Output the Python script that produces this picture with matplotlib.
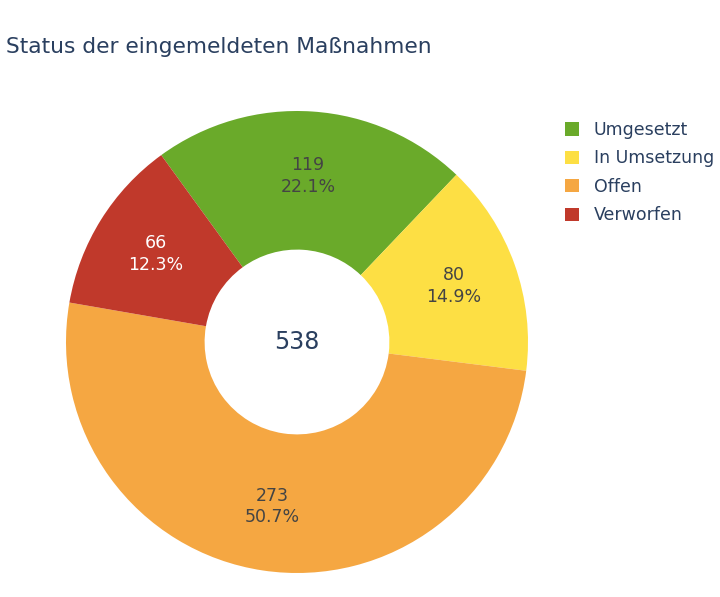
import numpy as np
import matplotlib.pyplot as plt
from matplotlib.patches import Patch

labels = ['Umgesetzt', 'In Umsetzung', 'Offen', 'Verworfen']
values = [119, 80, 273, 66]
colors = ['#6aaa2a', '#fddf44', '#f5a742', '#c0392b']
text_colors = ['#444444', '#444444', '#444444', 'white']

total = sum(values)

fig = plt.figure(figsize=(7.2, 5.97), dpi=100)
W, H = 720, 597
cx, cy, r = 297, 342, 231
ax = fig.add_axes([(cx - r) / W, (H - cy - r) / H, 2 * r / W, 2 * r / H])

wedges, _ = ax.pie(values, colors=colors, startangle=126, counterclock=False,
                   radius=1, wedgeprops=dict(width=0.6, linewidth=0))
ax.set_xlim(-1, 1)
ax.set_ylim(-1, 1)
ax.set_aspect('equal')
ax.axis('off')

# slice labels: value and percent
for w, v, tc in zip(wedges, values, text_colors):
    ang = np.deg2rad((w.theta1 + w.theta2) / 2)
    x, y = 0.72 * np.cos(ang), 0.72 * np.sin(ang)
    ax.text(x, y, f'{v}\n{v / total * 100:.1f}%', ha='center', va='center',
            fontsize=12.5, color=tc, linespacing=1.25)

ax.text(0, 0, str(total), ha='center', va='center', fontsize=17, color='#2a3f5f')

fig.text(6 / W, 1 - 47 / H, 'Status der eingemeldeten Maßnahmen', ha='left',
         va='center', fontsize=15.7, color='#2a3f5f')

handles = [Patch(facecolor=c, edgecolor='none') for c in colors]
leg = fig.legend(handles, labels, loc='upper left', bbox_to_anchor=(558 / W, 1 - 114 / H),
                 frameon=False, fontsize=12.5, handlelength=0.8, handleheight=0.8,
                 handletextpad=0.85, labelspacing=0.6, borderaxespad=0)
for t in leg.get_texts():
    t.set_color('#2a3f5f')

fig.savefig('out.png', dpi=100)
